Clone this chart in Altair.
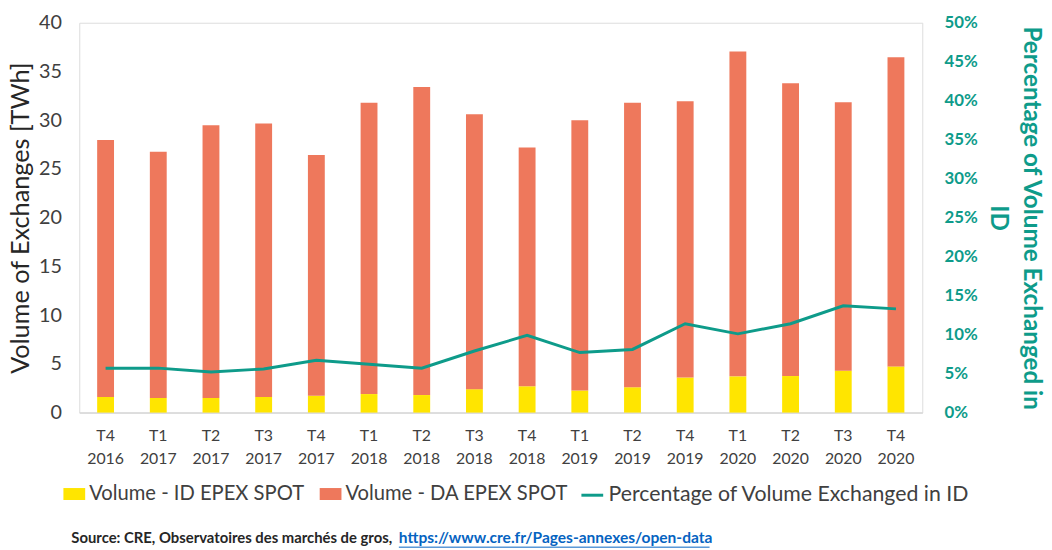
import altair as alt
import pandas as pd

quarters = ["T4 2016", "T1 2017", "T2 2017", "T3 2017", "T4 2017", "T1 2018", "T2 2018", "T3 2018",
            "T4 2018", "T1 2019", "T2 2019", "T4 2019", "T1 2020", "T2 2020", "T3 2020", "T4 2020"]
id_volume = [1.6, 1.5, 1.5, 1.6, 1.73, 1.9, 1.8, 2.4, 2.7, 2.27, 2.6, 3.6, 3.72, 3.75, 4.3, 4.74]
da_volume = [26.37, 25.27, 27.97, 28.07, 24.7, 29.9, 31.6, 28.2, 24.5, 27.73, 29.2, 28.35, 33.34, 30.05, 27.55, 31.71]
pct_id = [5.7, 5.7, 5.2, 5.6, 6.7, 6.2, 5.7, 7.9, 9.9, 7.7, 8.1, 11.4, 10.1, 11.4, 13.7, 13.3]

S_ID = "Volume - ID EPEX SPOT"
S_DA = "Volume - DA EPEX SPOT"
S_PCT = "Percentage of Volume Exchanged in ID"

YELLOW = "#FFE500"
SALMON = "#EE785C"
TEAL = "#0E9B8A"
GREY = "#404040"
FONT = "Lato"

bars_df = pd.DataFrame({
    "quarter": quarters * 2,
    "series": [S_ID] * len(quarters) + [S_DA] * len(quarters),
    "value": id_volume + da_volume,
    "order": [0] * len(quarters) + [1] * len(quarters),
})
line_df = pd.DataFrame({
    "quarter": quarters,
    "pct": [p / 100 for p in pct_id],
    "series": [S_PCT] * len(quarters),
})
src_df = pd.DataFrame({"t": ["Source: CRE, Observatoires des marchés de gros,"]})
link_df = pd.DataFrame({"t": ["https://www.cre.fr/Pages-annexes/open-data"]})

x_enc = alt.X(
    "quarter:N", sort=quarters,
    scale=alt.Scale(paddingInner=0.68, paddingOuter=0.34),
    axis=alt.Axis(title=None, labelAngle=0, labelExpr="split(datum.label, ' ')",
                  labelFontSize=16, labelColor=GREY, labelFont=FONT, domainColor="#d9d9d9",
                  domainWidth=1.5, ticks=False, labelPadding=15, labelLineHeight=23),
)

rect_path = "M-1,-0.55L1,-0.55L1,0.55L-1,0.55Z"

bars = alt.Chart(bars_df).mark_bar().encode(
    x=x_enc,
    y=alt.Y("value:Q", stack="zero",
            scale=alt.Scale(domain=[0, 40]),
            axis=alt.Axis(values=list(range(0, 41, 5)), title="Volume of Exchanges [TWh]",
                          grid=False, domain=False, ticks=False, labelFontSize=20,
                          labelColor=GREY, labelFont=FONT, titleFont=FONT, titleFontSize=25.5,
                          titleFontWeight="normal", titleColor="#262626", labelPadding=18,
                          titlePadding=5)),
    color=alt.Color("series:N",
                    scale=alt.Scale(domain=[S_ID, S_DA], range=[YELLOW, SALMON]),
                    legend=alt.Legend(title=None, orient="none", legendX=-16, legendY=465,
                                      direction="horizontal", symbolType=rect_path,
                                      symbolSize=484, symbolStrokeWidth=0, labelFontSize=20.4,
                                      labelFont=FONT, labelColor=GREY, labelOffset=4,
                                      labelLimit=0, columnPadding=15, padding=0)),
    order=alt.Order("order:Q", sort="ascending"),
)

line = alt.Chart(line_df).mark_line(strokeWidth=3).encode(
    x=alt.X("quarter:N", sort=quarters),
    y=alt.Y("pct:Q", scale=alt.Scale(domain=[0, 0.5]),
            axis=alt.Axis(orient="right", format=".0%", values=[i / 100 for i in range(0, 51, 5)],
                          title=["Percentage of Volume Exchanged in", "ID"], titleAngle=90,
                          grid=False, domain=False, ticks=False, labelFontSize=17,
                          labelFontWeight="bold", labelColor=TEAL, labelFont=FONT,
                          titleFont=FONT, titleFontSize=24.5, titleFontWeight="bold",
                          titleColor=TEAL, labelPadding=22, titlePadding=8,
                          titleLineHeight=34)),
    color=alt.Color("series:N", scale=alt.Scale(domain=[S_PCT], range=[TEAL]),
                    legend=alt.Legend(title=None, orient="none", legendX=506, legendY=465,
                                      symbolType="stroke", symbolSize=484, symbolStrokeWidth=3,
                                      labelFontSize=21.5, labelFont=FONT, labelColor=GREY,
                                      labelOffset=4, labelLimit=0, padding=0)),
)

source = alt.Chart(src_df).mark_text(align="left", baseline="middle", fontSize=15,
                                     fontWeight="bold", font=FONT, color="#262626").encode(
    x=alt.value(-8), y=alt.value(521), text="t:N")
link = alt.Chart(link_df).mark_text(align="left", baseline="middle", fontSize=15.7,
                                    fontWeight="bold", font=FONT, color="#0563C1").encode(
    x=alt.value(323), y=alt.value(521), text="t:N")
underline = alt.Chart(link_df).mark_rule(color="#0563C1", strokeWidth=1).encode(
    x=alt.value(323), x2=alt.value(637), y=alt.value(530))

chart = alt.layer(bars, line, source, link, underline).resolve_scale(
    y="independent", color="independent"
).properties(width=852, height=394, padding={"left": 0, "top": 2, "right": 0, "bottom": 0}
).configure_view(stroke=None).configure(background="white")

chart.save("out.html", embed_options={"renderer": "svg", "actions": False})
